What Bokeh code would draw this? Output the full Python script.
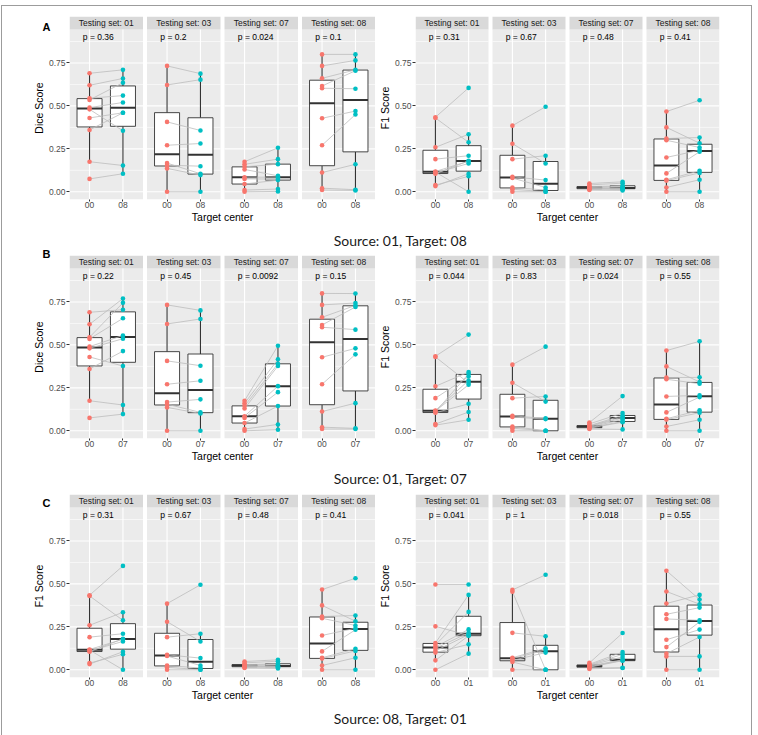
import numpy as np
from bokeh.plotting import figure
from bokeh.layouts import column, row
from bokeh.models import Range1d, FixedTicker, NumeralTickFormatter, Title
from bokeh.core.properties import value
from bokeh.embed import file_html
from bokeh.resources import INLINE

# ---------------------------------------------------------------- data
TESTING_SETS = ["01", "03", "07", "08"]
Y_TICKS = [0.0, 0.25, 0.5, 0.75]

# Model trained on source 01: scores on reference center 00 (one list per testing set,
# entries are paired by index with the target-center lists below)
dice_src01_c00 = [
    [0.69, 0.62, 0.545, 0.535, 0.49, 0.48, 0.43, 0.36, 0.175, 0.075],
    [0.733, 0.622, 0.407, 0.271, 0.167, 0.155, 0.136, 0.0],
    [0.175, 0.16, 0.145, 0.13, 0.085, 0.075, 0.045, 0.01, 0.0],
    [0.80, 0.733, 0.661, 0.616, 0.603, 0.428, 0.271, 0.112, 0.021, 0.01],
]
dice_src01_c08 = [
    [0.71, 0.66, 0.56, 0.635, 0.52, 0.355, 0.46, 0.46, 0.153, 0.105],
    [0.688, 0.653, 0.357, 0.281, 0.105, 0.149, 0.097, 0.0],
    [0.256, 0.19, 0.161, 0.093, 0.085, 0.074, 0.068, 0.016, 0.002],
    [0.80, 0.765, 0.71, 0.705, 0.60, 0.47, 0.45, 0.16, 0.012, 0.008],
]
dice_src01_c07 = [
    [0.705, 0.77, 0.745, 0.655, 0.555, 0.536, 0.377, 0.464, 0.15, 0.097],
    [0.701, 0.651, 0.379, 0.291, 0.183, 0.107, 0.101, 0.0],
    [0.495, 0.416, 0.39, 0.377, 0.26, 0.225, 0.144, 0.037, 0.006],
    [0.799, 0.744, 0.73, 0.721, 0.589, 0.48, 0.445, 0.161, 0.014, 0.01],
]
f1_src01_c00 = [
    [0.434, 0.43, 0.259, 0.19, 0.118, 0.115, 0.11, 0.105, 0.039, 0.033],
    [0.385, 0.28, 0.19, 0.087, 0.08, 0.025, 0.015, 0.0],
    [0.048, 0.04, 0.03, 0.028, 0.025, 0.02, 0.018, 0.015, 0.01],
    [0.467, 0.375, 0.31, 0.30, 0.20, 0.107, 0.07, 0.065, 0.025, 0.0],
]
f1_src01_c08 = [
    [0.605, 0.288, 0.335, 0.21, 0.178, 0.0, 0.165, 0.18, 0.09, 0.105],
    [0.495, 0.165, 0.21, 0.068, 0.025, 0.01, 0.0, 0.0],
    [0.058, 0.05, 0.035, 0.03, 0.022, 0.02, 0.018, 0.015, 0.008],
    [0.533, 0.283, 0.316, 0.258, 0.242, 0.233, 0.122, 0.11, 0.07, 0.0],
]
f1_src01_c07 = [
    [0.56, 0.278, 0.342, 0.316, 0.293, 0.268, 0.332, 0.157, 0.109, 0.064],
    [0.49, 0.17, 0.2, 0.072, 0.068, 0.0, 0.0, 0.0],
    [0.202, 0.103, 0.089, 0.08, 0.074, 0.066, 0.054, 0.05, 0.008],
    [0.521, 0.284, 0.311, 0.274, 0.206, 0.196, 0.119, 0.105, 0.064, 0.0],
]
# Model trained on source 08
f1_src08_c00 = [
    [0.497, 0.253, 0.156, 0.145, 0.133, 0.125, 0.11, 0.1, 0.055, 0.0],
    [0.465, 0.455, 0.215, 0.07, 0.065, 0.055, 0.045, 0.0],
    [0.04, 0.032, 0.028, 0.025, 0.022, 0.018, 0.015, 0.01, 0.005],
    [0.577, 0.456, 0.386, 0.323, 0.296, 0.175, 0.132, 0.094, 0.078, 0.0],
]
f1_src08_c01 = [
    [0.497, 0.2, 0.436, 0.337, 0.235, 0.215, 0.205, 0.148, 0.198, 0.094],
    [0.553, 0.0, 0.195, 0.125, 0.115, 0.1, 0.0, 0.0],
    [0.214, 0.103, 0.09, 0.075, 0.058, 0.055, 0.053, 0.012, 0.01],
    [0.409, 0.382, 0.436, 0.362, 0.288, 0.234, 0.279, 0.191, 0.078, 0.0],
]

# Wilcoxon p-values shown per testing set
p_dice_src01_c08 = ["0.36", "0.2", "0.024", "0.1"]
p_f1_src01_c08 = ["0.31", "0.67", "0.48", "0.41"]
p_dice_src01_c07 = ["0.22", "0.45", "0.0092", "0.15"]
p_f1_src01_c07 = ["0.044", "0.83", "0.024", "0.55"]
p_f1_src08_c01 = ["0.041", "1", "0.018", "0.55"]

# ---------------------------------------------------------------- style
RED = "#F8766D"
TEAL = "#00BFC4"
FONT = "Liberation Sans"
FACET_U = 2.2          # two discrete levels plus 0.6 expansion each side
GAP_U = 0.12           # spacing between facets
STEP = FACET_U + GAP_U
X_LO = 0.4
X_HI = X_LO + 3 * STEP + FACET_U
Y_LO, Y_HI = -0.045, 0.945
STRIP_U = 0.0757
Y_MINOR = [0.125, 0.375, 0.625, 0.875]
BOX_HALF = 0.375
FRAME_W = 306
FRAME_H = 183


def box_stats(vals):
    a = np.sort(np.asarray(vals, dtype=float))
    q1, med, q3 = np.percentile(a, [25, 50, 75])
    iqr = q3 - q1
    lo = a[a >= q1 - 1.5 * iqr].min()
    hi = a[a <= q3 + 1.5 * iqr].max()
    return q1, med, q3, lo, hi


def panel(ref_sets, tgt_sets, tgt_code, pvals, ylabel, left, right, top, bottom,
          tag=None, tag_standoff=0):
    p = figure(width=left + FRAME_W + right, height=top + FRAME_H + bottom,
               x_range=Range1d(X_LO, X_HI), y_range=Range1d(Y_LO, Y_HI + STRIP_U),
               output_backend="svg", toolbar_location=None,
               min_border_left=left, min_border_right=right,
               min_border_top=top, min_border_bottom=bottom,
               border_fill_color=None, background_fill_color=None,
               outline_line_color=None)
    p.xgrid.visible = False
    p.ygrid.visible = False

    offs = [k * STEP for k in range(len(TESTING_SETS))]
    fl = [o + X_LO for o in offs]
    fr = [o + X_LO + FACET_U for o in offs]
    fc = [(a + b) / 2 for a, b in zip(fl, fr)]

    # facet panels and strips
    p.quad(left=fl, right=fr, bottom=Y_LO, top=Y_HI, fill_color="#EBEBEB", line_color=None)
    p.quad(left=fl, right=fr, bottom=Y_HI, top=Y_HI + STRIP_U, fill_color="#D9D9D9",
           line_color=None)

    # grid lines inside each facet
    for y in Y_MINOR:
        p.segment(x0=fl, x1=fr, y0=y, y1=y, line_color="white", line_width=0.6)
    for y in Y_TICKS:
        p.segment(x0=fl, x1=fr, y0=y, y1=y, line_color="white", line_width=1.1)
    xcat = [o + 1 for o in offs] + [o + 2 for o in offs]
    p.segment(x0=xcat, x1=xcat, y0=Y_LO, y1=Y_HI, line_color="white", line_width=1.1)

    # boxplots
    wx, wy0, wy1 = [], [], []
    bl, br, bb, bt, mx0, mx1, my = [], [], [], [], [], [], []
    for k, o in enumerate(offs):
        for j, vals in enumerate((ref_sets[k], tgt_sets[k])):
            cx = o + 1 + j
            q1, med, q3, lo, hi = box_stats(vals)
            wx += [cx, cx]
            wy0 += [lo, q3]
            wy1 += [q1, hi]
            bl.append(cx - BOX_HALF)
            br.append(cx + BOX_HALF)
            bb.append(q1)
            bt.append(q3)
            mx0.append(cx - BOX_HALF)
            mx1.append(cx + BOX_HALF)
            my.append(med)
    p.segment(x0=wx, x1=wx, y0=wy0, y1=wy1, line_color="#333333", line_width=1.1)
    p.quad(left=bl, right=br, bottom=bb, top=bt, fill_color="white",
           line_color="#333333", line_width=0.9)
    p.segment(x0=mx0, x1=mx1, y0=my, y1=my, line_color="#333333", line_width=2)

    # paired observations
    sx0, sx1, sy0, sy1 = [], [], [], []
    rx, ry, tx, ty = [], [], [], []
    for k, o in enumerate(offs):
        for a, b in zip(ref_sets[k], tgt_sets[k]):
            sx0.append(o + 1)
            sx1.append(o + 2)
            sy0.append(a)
            sy1.append(b)
        rx += [o + 1] * len(ref_sets[k])
        ry += list(ref_sets[k])
        tx += [o + 2] * len(tgt_sets[k])
        ty += list(tgt_sets[k])
    p.segment(x0=sx0, x1=sx1, y0=sy0, y1=sy1, line_color="#BDBDBD", line_width=0.8)
    p.scatter(x=rx, y=ry, size=4.6, fill_color=RED, line_color=None)
    p.scatter(x=tx, y=ty, size=4.6, fill_color=TEAL, line_color=None)

    # strip labels and p-values
    p.text(x=fc, y=[Y_HI + STRIP_U / 2] * 4,
           text=["Testing set: " + s for s in TESTING_SETS],
           text_align="center", text_baseline="middle", text_font=value(FONT),
           text_font_size="8.5px", text_color="#1A1A1A")
    p.text(x=[o + 0.8 for o in offs], y=[0.9] * 4, text=["p = " + v for v in pvals],
           text_align="left", text_baseline="middle", text_font=value(FONT),
           text_font_size="8.5px", text_color="black")

    # axes
    yax = p.yaxis[0]
    yax.ticker = FixedTicker(ticks=Y_TICKS)
    yax.formatter = NumeralTickFormatter(format="0.00")
    yax.axis_label = ylabel
    xax = p.xaxis[0]
    xt = sorted(xcat)
    xax.ticker = FixedTicker(ticks=xt)
    xax.major_label_overrides = {t: ("00" if i % 2 == 0 else tgt_code) for i, t in enumerate(xt)}
    xax.axis_label = "Target center"
    for ax in (xax, yax):
        ax.axis_line_color = None
        ax.major_tick_line_color = "#333333"
        ax.major_tick_in = 0
        ax.minor_tick_line_color = None
        ax.major_label_text_font = FONT
        ax.major_label_text_font_size = "8.5px"
        ax.major_label_text_color = "#4D4D4D"
        ax.axis_label_text_font = FONT
        ax.axis_label_text_font_size = "10.5px"
        ax.axis_label_text_font_style = "normal"
        ax.axis_label_text_color = "black"
    yax.major_tick_out = 3
    yax.major_label_standoff = 1
    yax.axis_label_standoff = 1
    xax.major_tick_out = 2
    xax.major_label_standoff = 0
    xax.axis_label_standoff = 0

    if tag is not None:
        # panel letter: a left-aligned title pulled down beside the first strip
        p.add_layout(Title(text=tag, align="left", offset=-27, standoff=tag_standoff,
                           vertical_align="bottom", text_font=FONT,
                           text_font_size="11px", text_font_style="bold",
                           text_color="black"), "above")
    return p


def caption(text, h, center_from_top):
    p = figure(width=758, height=h, x_range=Range1d(0, 758), y_range=Range1d(0, h),
               output_backend="svg", toolbar_location=None, min_border=0,
               x_axis_location=None, y_axis_location=None,
               border_fill_color=None, background_fill_color=None,
               outline_line_color=None)
    p.grid.visible = False
    p.text(x=[400], y=[h - center_from_top], text=[text], text_align="center",
           text_baseline="middle", text_font=value("Lato"), text_font_size="14px",
           text_color="#1A1A1A")
    return p


LEFT_L, RIGHT_L = 69, 0
LEFT_R, RIGHT_R = 38, 39
BOTTOM = 27

row_a = row(
    panel(dice_src01_c00, dice_src01_c08, "08", p_dice_src01_c08, "Dice Score",
          LEFT_L, RIGHT_L, 16, BOTTOM, tag="A", tag_standoff=-32),
    panel(f1_src01_c00, f1_src01_c08, "08", p_f1_src01_c08, "F1 Score",
          LEFT_R, RIGHT_R, 16, BOTTOM),
)
row_b = row(
    panel(dice_src01_c00, dice_src01_c07, "07", p_dice_src01_c07, "Dice Score",
          LEFT_L, RIGHT_L, 7, BOTTOM, tag="B", tag_standoff=-9),
    panel(f1_src01_c00, f1_src01_c07, "07", p_f1_src01_c07, "F1 Score",
          LEFT_R, RIGHT_R, 7, BOTTOM),
)
row_c = row(
    panel(f1_src01_c00, f1_src01_c08, "08", p_f1_src01_c08, "F1 Score",
          LEFT_L, RIGHT_L, 7, BOTTOM, tag="C", tag_standoff=-28),
    panel(f1_src08_c00, f1_src08_c01, "01", p_f1_src08_c01, "F1 Score",
          LEFT_R, RIGHT_R, 7, BOTTOM),
)

LINE = "linear-gradient(#9C9C9C, #9C9C9C)"
page = column(
    row_a, caption("Source: 01, Target: 08", 22, 14),
    row_b, caption("Source: 01, Target: 07", 22, 13),
    row_c, caption("Source: 08, Target: 01", 31, 14),
    styles={
        "background-image": ", ".join([LINE] * 3),
        "background-size": "750px 1px, 1px 730px, 1px 730px",
        "background-position": "1px 5px, 1px 5px, 751px 5px",
        "background-repeat": "no-repeat",
    },
)

open("out.html", "w").write(file_html(page, INLINE))
